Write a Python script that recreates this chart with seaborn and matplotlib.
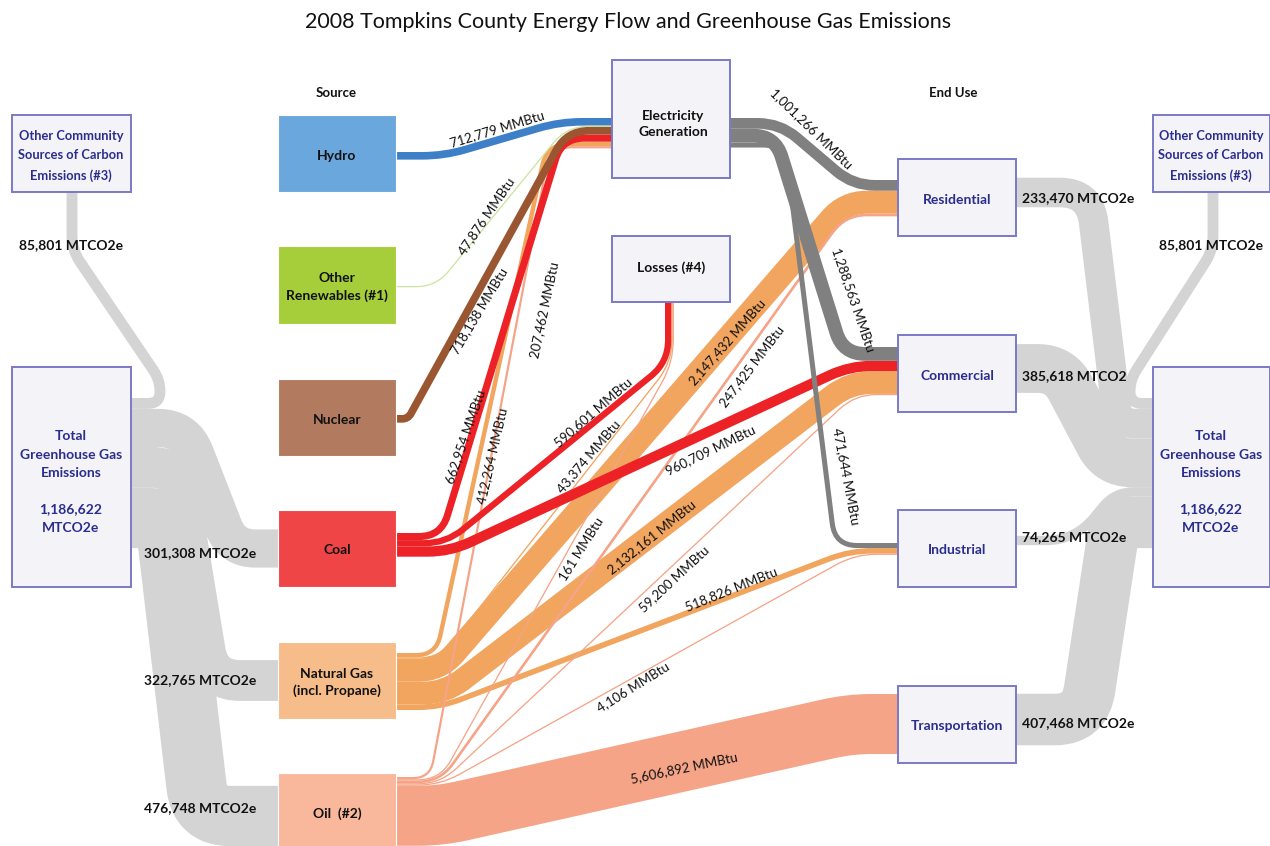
import numpy as np
import matplotlib
matplotlib.use("Agg")
import matplotlib.pyplot as plt
from matplotlib.path import Path
from matplotlib.patches import PathPatch, Rectangle
import seaborn as sns

# ---------------- data ----------------
title = "2008 Tompkins County Energy Flow and Greenhouse Gas Emissions"

# energy flows (MMBtu), order matters for stacking at each node
flow_from = ["Hydro", "Other Renewables", "Nuclear", "Coal", "Natural Gas", "Oil",
             "Coal", "Natural Gas", "Oil",
             "Electricity", "Electricity", "Electricity",
             "Natural Gas", "Oil",
             "Coal", "Natural Gas", "Oil",
             "Natural Gas", "Oil",
             "Oil"]
flow_to = ["Electricity"] * 6 + ["Losses"] * 3 + \
          ["Residential", "Commercial", "Industrial",
           "Residential", "Residential",
           "Commercial", "Commercial", "Commercial",
           "Industrial", "Industrial",
           "Transportation"]
flow_mmbtu = [712779, 47876, 718138, 662954, 412264, 207462,
              590601, 43374, 161,
              1001266, 1288563, 471644,
              2147432, 247425,
              960709, 2132161, 59200,
              518826, 4106,
              5606892]

# emissions (MTCO2e)
em_fuel = ["Coal", "Natural Gas", "Oil"]
em_fuel_vals = [301308, 322765, 476748]
em_use = ["Residential", "Commercial", "Industrial", "Transportation"]
em_use_vals = [233470, 385618, 74265, 407468]
em_use_text = ["233,470 MTCO2e", "385,618 MTCO2", "74,265 MTCO2e", "407,468 MTCO2e"]
em_other = 85801
em_total = 1186622

# ---------------- layout (pixel space) ----------------
E_SCALE = 1.07e-5   # px per MMBtu
C_SCALE = 1.265e-4  # px per MTCO2e
MIN_W = 1.3

boxes = {  # x0, y0, x1, y1
    "Hydro": (278, 115, 396, 192),
    "Other Renewables": (278, 246, 396, 324),
    "Nuclear": (278, 379, 396, 456),
    "Coal": (278, 510, 396, 587),
    "Natural Gas": (278, 642, 396, 719),
    "Oil": (278, 773, 396, 850),
    "Electricity": (612, 60, 730, 178),
    "Losses": (612, 236, 730, 302),
    "Residential": (898, 159, 1016, 236),
    "Commercial": (898, 335, 1016, 412),
    "Industrial": (898, 510, 1016, 587),
    "Transportation": (898, 686, 1016, 763),
    "OtherL": (12, 115, 131, 192),
    "TotalL": (12, 367, 131, 587),
    "OtherR": (1153, 115, 1270, 192),
    "TotalR": (1153, 367, 1270, 587),
}
box_fill = {"Hydro": "#6aa7dc", "Other Renewables": "#a6cd3a", "Nuclear": "#b27b5f",
            "Coal": "#ef4546", "Natural Gas": "#f6bd8a", "Oil": "#f9b89c"}
box_text = {"Hydro": "Hydro", "Other Renewables": "Other\nRenewables (#1)", "Nuclear": "Nuclear",
            "Coal": "Coal", "Natural Gas": "Natural Gas\n(incl. Propane)", "Oil": "Oil  (#2)",
            "Residential": "Residential", "Commercial": "Commercial",
            "Industrial": "Industrial", "Transportation": "Transportation"}
flow_color = {"Hydro": "#3d80c8", "Other Renewables": "#cde4a3", "Nuclear": "#9a5630",
              "Coal": "#ec2227", "Natural Gas": "#f1a55e", "Oil": "#f5a487",
              "Electricity": "#808080"}
flow_z = {"Natural Gas": 2.0, "Oil": 2.1, "Coal": 2.2, "Hydro": 2.3,
          "Other Renewables": 2.3, "Nuclear": 2.3, "Electricity": 2.4}

out_anchor = {"Hydro": 152, "Other Renewables": 286, "Nuclear": 415, "Coal": 533,
              "Natural Gas": 653, "Oil": 777, "Electricity": 118}
in_anchor = {"Electricity": 118, "Residential": 180, "Commercial": 347,
             "Industrial": 543, "Transportation": 694}
loss_x0, loss_turn_y = 665, 362

lead_out = [48, 40, 12, 45, 40, 34,
            50, 44, 44,
            50, 45, 55,
            44, 44,
            54, 49, 44,
            44, 44,
            44]
lead_in = [52, 45, 45, 50, 65, 62,
           0, 0, 0,
           45, 55, 63,
           53, 53,
           48, 48, 43,
           48, 43,
           48]

flow_labels = [  # text, x, y, angle
    ("712,779 MMBtu", 497, 129, 17), ("47,876 MMBtu", 486, 216, 56),
    ("718,138 MMBtu", 479, 311, 59), ("662,954 MMBtu", 465, 437, 71),
    ("412,264 MMBtu", 492, 456, 77), ("207,462 MMBtu", 544, 310, 78),
    ("590,601 MMBtu", 593, 412, 41), ("43,374 MMBtu", 589, 457, 50),
    ("161 MMBtu", 582, 549, 58),
    ("1,001,266 MMBtu", 811, 129, -44), ("1,288,563 MMBtu", 853, 300, -71),
    ("471,644 MMBtu", 846, 476, -79),
    ("2,147,432 MMBtu", 727, 342, 49), ("247,425 MMBtu", 752, 366, 53),
    ("960,709 MMBtu", 711, 450, 26), ("2,132,161 MMBtu", 652, 537, 39),
    ("59,200 MMBtu", 674, 579, 43), ("518,826 MMBtu", 731, 589, 22),
    ("4,106 MMBtu", 633, 687, 32), ("5,606,892 MMBtu", 684, 768, 12),
]

NAVY = "#2b2d8e"
EDGE = "#7a7ac6"
GRAY = "#d4d4d4"


def rounded(points, r):
    pts = np.asarray(points, float)
    verts, codes = [pts[0]], [Path.MOVETO]
    for i in range(1, len(pts) - 1):
        p, v, n = pts[i - 1], pts[i], pts[i + 1]
        d1, d2 = np.linalg.norm(v - p), np.linalg.norm(n - v)
        rr = min(r, d1 / 2, d2 / 2)
        a = v + (p - v) / d1 * rr
        b = v + (n - v) / d2 * rr
        verts += [a, v, b]
        codes += [Path.LINETO, Path.CURVE3, Path.CURVE3]
    verts.append(pts[-1])
    codes.append(Path.LINETO)
    return Path(verts, codes)


def band(ax, points, width, color, z, r=25):
    ax.add_patch(PathPatch(rounded(points, r), facecolor="none", edgecolor=color,
                           lw=width * 0.72, capstyle="butt", joinstyle="round", zorder=z))


sns.set_theme(style="white")
plt.rcParams["font.family"] = ["Lato", "DejaVu Sans"]

fig = plt.figure(figsize=(12.7, 8.46), dpi=100)
ax = fig.add_axes([0, 0, 1, 1])
ax.set_xlim(0, 1270)
ax.set_ylim(846, 0)
ax.axis("off")

# ---------------- emissions (gray) ----------------
wo = em_other * C_SCALE
yl = 398 + wo / 2
band(ax, [(72, 192), (72, 250), (160, 380), (160, yl), (131, yl)], wo, GRAY, 1, 14)
y = 398 + wo
fuel_route = {"Coal": (185, 232), "Natural Gas": (175, 210), "Oil": (165, 200)}
for name, v in zip(em_fuel, em_fuel_vals):
    w = v * C_SCALE
    yc = y + w / 2
    bx = boxes[name]
    ty = (bx[1] + bx[3]) / 2 if name != "Oil" else 816
    a, b = fuel_route[name]
    band(ax, [(131, yc), (a, yc), (b, ty), (278, ty)], w, GRAY, 1, 30)
    y += w

band(ax, [(1213, 192), (1213, 250), (1130, 380), (1130, yl), (1153, yl)], wo, GRAY, 1, 14)
y = 398 + wo
use_route = {"Residential": (1090, 1118), "Commercial": (1060, 1110),
             "Industrial": (1075, 1115), "Transportation": (1085, 1115)}
for name, v in zip(em_use, em_use_vals):
    w = v * C_SCALE
    yc = y + w / 2
    bx = boxes[name]
    sy = (bx[1] + bx[3]) / 2 + (-5 if name != "Industrial" else -8)
    a, b = use_route[name]
    band(ax, [(1016, sy), (a, sy), (b, yc), (1153, yc)], w, GRAY, 1, 30)
    y += w

# ---------------- energy flows ----------------
out_pos = dict(out_anchor)
in_pos = dict(in_anchor)
lx = loss_x0
for i, (s, t, v) in enumerate(zip(flow_from, flow_to, flow_mmbtu)):
    w = max(v * E_SCALE, MIN_W)
    y0 = out_pos[s] + w / 2
    out_pos[s] += w
    x0 = boxes[s][2]
    if t == "Losses":
        xc = lx + w / 2
        lx += w
        pts = [(x0, y0), (x0 + lead_out[i], y0), (xc, loss_turn_y), (xc, boxes["Losses"][3])]
    else:
        y1 = in_pos[t] + w / 2
        in_pos[t] += w
        x1 = boxes[t][0]
        pts = [(x0, y0), (x0 + lead_out[i], y0), (x1 - lead_in[i], y1), (x1, y1)]
    band(ax, pts, w, flow_color[s], flow_z[s], 22)

for txt, x, yy, ang in flow_labels:
    ax.text(x, yy, txt, rotation=ang, rotation_mode="anchor", ha="center", va="center",
            fontsize=9.5, color="#111111", zorder=6)

# ---------------- boxes ----------------
for name, (x0, y0, x1, y1) in boxes.items():
    if name in box_fill:
        ax.add_patch(Rectangle((x0, y0), x1 - x0, y1 - y0, facecolor=box_fill[name],
                               edgecolor="white", lw=0.8, zorder=3))
        ax.text((x0 + x1) / 2, (y0 + y1) / 2 + 2, box_text[name], ha="center", va="center",
                fontsize=10, fontweight="bold", color="#111111", linespacing=1.5, zorder=4)
    else:
        ax.add_patch(Rectangle((x0, y0), x1 - x0, y1 - y0, facecolor="#f3f3f8",
                               edgecolor=EDGE, lw=1.4, zorder=3))
        if name in box_text:
            ax.text((x0 + x1) / 2, (y0 + y1) / 2 + 2, box_text[name], ha="center", va="center",
                    fontsize=10, fontweight="bold", color=NAVY, zorder=4)

ax.text(673, 124, "Electricity\nGeneration", ha="center", va="center", fontsize=10,
        fontweight="bold", color="#111111", linespacing=1.4, zorder=4)
ax.text(671, 268, "Losses (#4)", ha="center", va="center", fontsize=10,
        fontweight="bold", color="#111111", zorder=4)
for cx in (71, 1211):
    ax.text(cx, 156, "Other Community\nSources of Carbon\nEmissions (#3)", ha="center",
            va="center", fontsize=9.3, fontweight="bold", color=NAVY, linespacing=1.75, zorder=4)
    ax.text(cx, 482, "Total\nGreenhouse Gas\nEmissions\n\n{:,}\nMTCO2e".format(em_total),
            ha="center", va="center", fontsize=10, fontweight="bold", color=NAVY,
            linespacing=1.62, zorder=4)
    ax.text(cx, 245, "{:,} MTCO2e".format(em_other), ha="center", va="center",
            fontsize=10, fontweight="bold", color="#111111", zorder=4)

for v, name in zip(em_fuel_vals, em_fuel):
    yy = {"Coal": 553, "Natural Gas": 680, "Oil": 808}[name]
    ax.text(200, yy, "{:,} MTCO2e".format(v), ha="center", va="center",
            fontsize=10, fontweight="bold", color="#111111", zorder=4)
for txt, name in zip(em_use_text, em_use):
    yy = {"Residential": 198, "Commercial": 376, "Industrial": 537, "Transportation": 723}[name]
    ax.text(1022, yy, txt, ha="left", va="center", fontsize=10, fontweight="bold",
            color="#111111", zorder=4)

ax.text(336, 93, "Source", ha="center", va="center", fontsize=9.5, fontweight="bold", color="#111111")
ax.text(953, 93, "End Use", ha="center", va="center", fontsize=9.5, fontweight="bold", color="#111111")
ax.text(628, 22, title, ha="center", va="center", fontsize=15.5, color="#111111")

fig.savefig("out.png", dpi=100)
